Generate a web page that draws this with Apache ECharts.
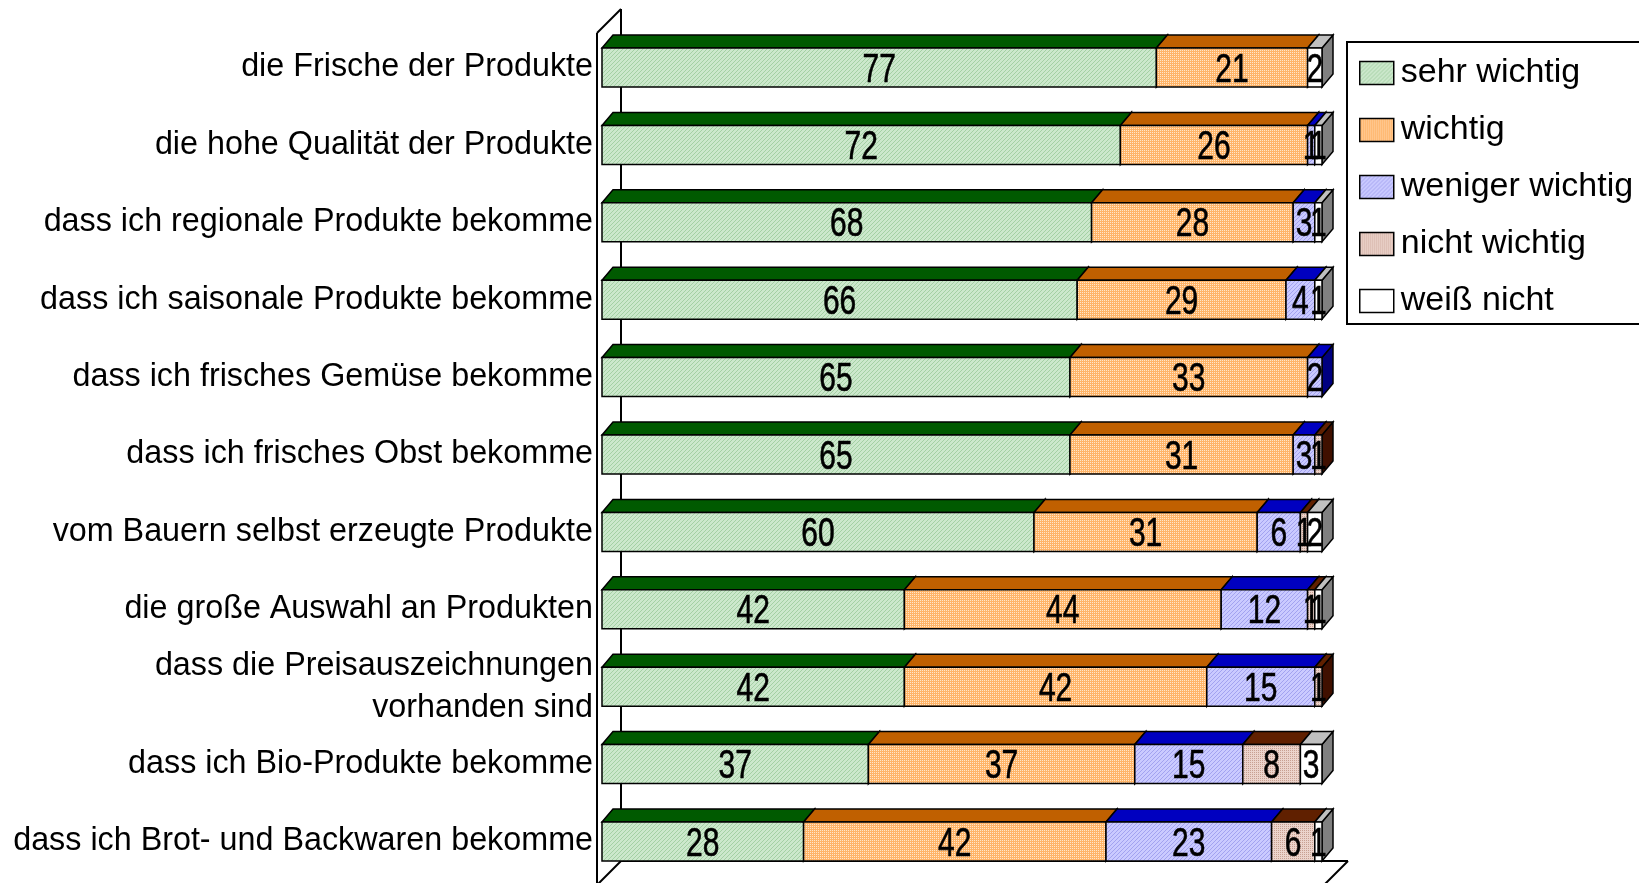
<html>
<head>
<meta charset="utf-8">
<script src="https://cdn.jsdelivr.net/npm/echarts@6/dist/echarts.min.js"></script>
<style>
  html, body { margin: 0; padding: 0; background: #fff; }
  #main { width: 1639px; height: 883px; }
</style>
</head>
<body>
<div id="main"></div>
<script>
var categories = [
    'die Frische der Produkte',
    'die hohe Qualität der Produkte',
    'dass ich regionale Produkte bekomme',
    'dass ich saisonale Produkte bekomme',
    'dass ich frisches Gemüse bekomme',
    'dass ich frisches Obst bekomme',
    'vom Bauern selbst erzeugte Produkte',
    'die große Auswahl an Produkten',
    'dass die Preisauszeichnungen\nvorhanden sind',
    'dass ich Bio-Produkte bekomme',
    'dass ich Brot- und Backwaren bekomme'
];
var seriesNames = ['sehr wichtig', 'wichtig', 'weniger wichtig', 'nicht wichtig', 'weiß nicht'];
var sehrWichtig    = [77, 72, 68, 66, 65, 65, 60, 42, 42, 37, 28];
var wichtig        = [21, 26, 28, 29, 33, 31, 31, 44, 42, 37, 42];
var wenigerWichtig = [0, 1, 3, 4, 2, 3, 6, 12, 15, 15, 23];
var nichtWichtig   = [0, 0, 0, 0, 0, 1, 1, 1, 1, 8, 6];
var weissNicht     = [2, 1, 1, 1, 0, 0, 2, 1, 0, 3, 1];
var values = [sehrWichtig, wichtig, wenigerWichtig, nichtWichtig, weissNicht];

// small fill patterns like the old office chart
function makePattern(base, dot, kind) {
    var c = document.createElement('canvas');
    c.width = 4; c.height = 4;
    var ctx = c.getContext('2d');
    ctx.fillStyle = base;
    ctx.fillRect(0, 0, 4, 4);
    ctx.fillStyle = dot;
    for (var x = 0; x < 4; x++) {
        for (var y = 0; y < 4; y++) {
            var on = kind == 'hatch' ? (x + y) % 4 == 3 : (x % 2 == 0 && y % 2 == 0);
            if (on) ctx.fillRect(x, y, 1, 1);
        }
    }
    return { image: c, repeat: 'repeat' };
}

var styles = [
    { front: makePattern('#cce8cc', '#a4d0a4', 'hatch'), top: '#005a00', side: '#003c00' },
    { front: makePattern('#ffb468', '#ffe6c8', 'dots'), top: '#c06000', side: '#804000' },
    { front: makePattern('#cacaff', '#a2a2f0', 'hatch'), top: '#0000c0', side: '#000080' },
    { front: makePattern('#ecd4cc', '#c8a092', 'dots'), top: '#602000', side: '#401000' },
    { front: '#ffffff', top: '#c0c0c0', side: '#808080' }
];

var DX = 11, DY = 13, BAR_H = 39;

function renderItem(params, api) {
    var cat = api.value(0);
    var a = api.coord([api.value(1), cat]);
    var b = api.coord([api.value(2), cat]);
    var top = a[1] - BAR_H / 2, bot = a[1] + BAR_H / 2;
    var st = styles[params.seriesIndex];
    return {
        type: 'group',
        children: [
            { type: 'polygon', shape: { points: [[b[0], top], [b[0] + DX, top - DY], [b[0] + DX, bot - DY], [b[0], bot]] },
              style: { fill: st.side, stroke: '#000', lineWidth: 1.5 } },
            { type: 'polygon', shape: { points: [[a[0], top], [a[0] + DX, top - DY], [b[0] + DX, top - DY], [b[0], top]] },
              style: { fill: st.top, stroke: '#000', lineWidth: 1.5 } },
            { type: 'rect', shape: { x: a[0], y: top, width: b[0] - a[0], height: BAR_H },
              style: { fill: st.front, stroke: '#000', lineWidth: 1.5 } },
            // narrow, tall digits: scale a normal sans horizontally
            { type: 'text', x: (a[0] + b[0]) / 2, y: a[1] + 3, scaleX: 0.75, z2: 100,
              style: { text: String(api.value(3)), align: 'center', verticalAlign: 'middle',
                       font: '40px "Liberation Sans", Arial, sans-serif', fill: '#000',
                       stroke: '#000', lineWidth: 0.6 } }
        ]
    };
}

// cumulative start/end for every segment
var series = [];
var starts = categories.map(function () { return 0; });
for (var s = 0; s < values.length; s++) {
    var data = [];
    for (var i = 0; i < categories.length; i++) {
        var v = values[s][i];
        if (v > 0) data.push([i, starts[i], starts[i] + v, v]);
        starts[i] += v;
    }
    series.push({
        name: seriesNames[s],
        type: 'custom',
        renderItem: renderItem,
        encode: { x: [1, 2], y: 0 },
        itemStyle: { color: styles[s].front, borderColor: '#000', borderWidth: 1.5 },
        data: data,
        z: 5
    });
}

var chart = echarts.init(document.getElementById('main'));
var wallStyle = { stroke: '#000', lineWidth: 2 };

var option = {
    animation: false,
    grid: { left: 602, width: 720, top: 28.8, height: 851.4 },
    xAxis: { type: 'value', min: 0, max: 100, show: false },
    yAxis: {
        type: 'category',
        inverse: true,
        data: categories,
        axisLine: { show: false },
        axisTick: { show: false },
        splitLine: { show: false },
        axisLabel: {
            margin: 9,
            align: 'right',
            fontFamily: 'Liberation Sans',
            fontSize: 32.3,
            lineHeight: 42,
            color: '#000'
        }
    },
    legend: {
        orient: 'vertical',
        left: 1347,
        top: 42,
        padding: [14, 60, 6, 12],
        itemGap: 23,
        itemWidth: 34,
        itemHeight: 23,
        icon: 'rect',
        borderColor: '#000',
        borderWidth: 2,
        selectedMode: false,
        textStyle: { fontFamily: 'Liberation Sans', fontSize: 34, color: '#000', padding: [0, 0, 0, 2] },
        data: seriesNames.map(function (n, k) {
            return { name: n, itemStyle: { color: styles[k].front, borderColor: '#000', borderWidth: 1.5 } };
        })
    },
    graphic: [
        { type: 'line', z: 0, shape: { x1: 597, y1: 33, x2: 597, y2: 890 }, style: wallStyle },
        { type: 'line', z: 0, shape: { x1: 597, y1: 33, x2: 621, y2: 9 }, style: wallStyle },
        { type: 'line', z: 0, shape: { x1: 621, y1: 9, x2: 621, y2: 861 }, style: wallStyle },
        { type: 'line', z: 0, shape: { x1: 621, y1: 861, x2: 594, y2: 888 }, style: wallStyle },
        { type: 'line', z: 0, shape: { x1: 621, y1: 861, x2: 1348, y2: 861 }, style: wallStyle },
        { type: 'line', z: 0, shape: { x1: 1348, y1: 861, x2: 1321, y2: 888 }, style: wallStyle }
    ],
    series: series
};
chart.setOption(option);
</script>
</body>
</html>
